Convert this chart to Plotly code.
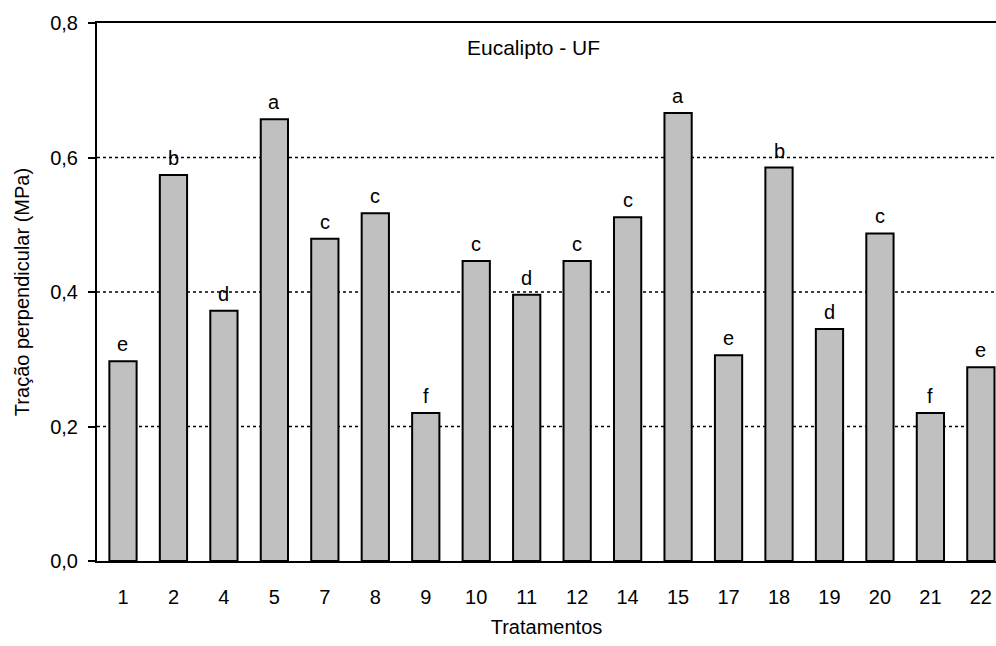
import plotly.graph_objects as go

categories = ["1", "2", "4", "5", "7", "8", "9", "10", "11", "12", "14",
              "15", "17", "18", "19", "20", "21", "22"]
values = [0.297, 0.574, 0.372, 0.657, 0.479, 0.517, 0.220, 0.446, 0.396, 0.446,
          0.511, 0.666, 0.306, 0.585, 0.345, 0.487, 0.220, 0.288]
letters = ["e", "b", "d", "a", "c", "c", "f", "c", "d", "c", "c",
           "a", "e", "b", "d", "c", "f", "e"]
y_ticks = [0.0, 0.2, 0.4, 0.6, 0.8]
y_ticklabels = ["0,0", "0,2", "0,4", "0,6", "0,8"]

FONT = "Liberation Sans, Arial, sans-serif"

fig = go.Figure()
fig.add_trace(go.Bar(
    x=list(range(len(categories))), y=values,
    marker=dict(color="#c0c0c0", line=dict(color="black", width=2)),
    width=0.54,
    hoverinfo="skip",
))

# dotted grid lines at intermediate ticks
for t in y_ticks[1:-1]:
    fig.add_shape(type="line", xref="paper", x0=0, x1=1, yref="y", y0=t, y1=t,
                  line=dict(color="black", width=1.5, dash="dot"), layer="below")

for i, (v, l) in enumerate(zip(values, letters)):
    fig.add_annotation(x=i, y=v, text=l, showarrow=False, yanchor="middle",
                       yshift=17, font=dict(size=20, color="black", family=FONT))

fig.add_annotation(xref="paper", yref="paper", x=0.4856, y=0.955, text="Eucalipto - UF",
                   showarrow=False, xanchor="center", yanchor="middle",
                   font=dict(size=21, color="black", family=FONT))

fig.update_layout(
    width=996, height=646,
    margin=dict(l=97, r=0, t=23, b=85),
    plot_bgcolor="white", paper_bgcolor="white",
    showlegend=False,
    font=dict(family=FONT, size=20, color="black"),
    xaxis=dict(
        tickmode="array", tickvals=list(range(len(categories))), ticktext=categories,
        range=[-0.515, 17.30],
        showline=True, linecolor="black", linewidth=2, mirror=True,
        ticks="", ticklabelstandoff=17, showgrid=False, zeroline=False,
        title=dict(text="Tratamentos", standoff=13, font=dict(size=20)),
    ),
    yaxis=dict(
        range=[0, 0.8], tickmode="array", tickvals=y_ticks, ticktext=y_ticklabels,
        showline=True, linecolor="black", linewidth=2,
        ticks="outside", ticklen=7, tickwidth=2, tickcolor="black",
        ticklabelstandoff=6,
        showgrid=False, zeroline=False,
        title=dict(text="Tração perpendicular (MPa)", standoff=15, font=dict(size=20)),
    ),
)

fig.write_html("out.html", config={"displayModeBar": False},
               post_script="document.body.style.margin='0px';document.body.style.padding='0px';")
